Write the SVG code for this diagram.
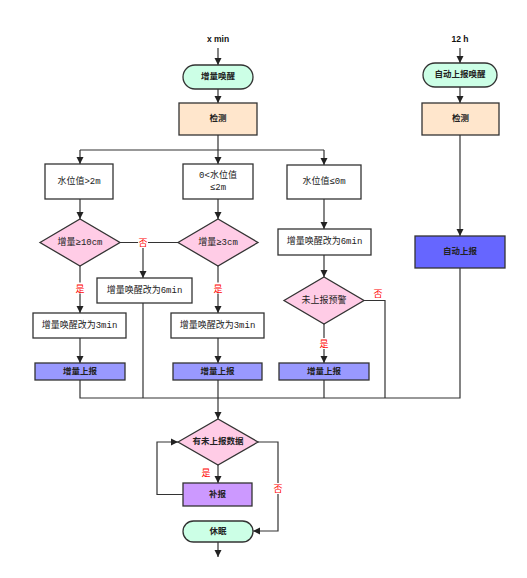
<svg xmlns="http://www.w3.org/2000/svg" width="527" height="578" viewBox="0 0 527 578">
<style>
.t{font-family:"Liberation Mono","Noto Sans CJK SC",monospace;font-size:9px;fill:#222;text-anchor:middle;dominant-baseline:central}
.b{font-weight:bold;font-size:8.5px}
.h{font-family:"Liberation Sans",Arial,sans-serif;font-size:8.5px;font-weight:bold;fill:#111;text-anchor:middle}
.lab{font-family:"Noto Sans CJK SC",sans-serif;font-size:9px;fill:#ff0000;text-anchor:middle;dominant-baseline:central}
.s{stroke:#333;stroke-width:1.3}
.term{fill:#ccffe6}
.chk{fill:#ffe6cc}
.wht{fill:#ffffff}
.dia{fill:#ffcce6}
.inc{fill:#9999ff}
.aut{fill:#6666ff}
.sup{fill:#cc99ff}
.ln{fill:none;stroke:#333;stroke-width:1.2}
</style>
<defs>
<marker id="ar" viewBox="0 0 10 10" refX="10" refY="5" markerWidth="7" markerHeight="8" markerUnits="userSpaceOnUse" orient="auto">
<path d="M0,0 L10,5 L0,10 z" fill="#222"/>
</marker>
</defs>
<rect width="527" height="578" fill="#ffffff"/>
<text class="h" x="218" y="42">x min</text>
<text class="h" x="460" y="42">12 h</text>
<g id="connectors">
<path class="ln" marker-end="url(#ar)" d="M218,48 V65"/>
<path class="ln" marker-end="url(#ar)" d="M218,89 V103"/>
<path class="ln" d="M218,135 V150 M80,150 H324"/>
<path class="ln" marker-end="url(#ar)" d="M80,150 V164"/>
<path class="ln" marker-end="url(#ar)" d="M218,150 V164"/>
<path class="ln" marker-end="url(#ar)" d="M324,150 V165"/>
<path class="ln" marker-end="url(#ar)" d="M80,199 V219"/>
<path class="ln" marker-end="url(#ar)" d="M218,199 V219"/>
<path class="ln" marker-end="url(#ar)" d="M324,199 V229"/>
<path class="ln" marker-end="url(#ar)" d="M324,255 V277"/>
<path class="ln" d="M120,242.5 H178"/>
<path class="ln" marker-end="url(#ar)" d="M143,242.5 V278"/>
<path class="ln" marker-end="url(#ar)" d="M80,266 V313"/>
<path class="ln" marker-end="url(#ar)" d="M218,266 V313"/>
<path class="ln" marker-end="url(#ar)" d="M80,338 V363"/>
<path class="ln" marker-end="url(#ar)" d="M218,338 V363"/>
<path class="ln" marker-end="url(#ar)" d="M324,323.5 V363"/>
<path class="ln" d="M364,300.5 H385 V398"/>
<path class="ln" marker-end="url(#ar)" d="M460,48 V63"/>
<path class="ln" marker-end="url(#ar)" d="M460,87 V103"/>
<path class="ln" marker-end="url(#ar)" d="M460,135 V236"/>
<path class="ln" d="M460,268 V398 H80 V380 M143,303 V398 M218,380 V398 M324,380 V398"/>
<path class="ln" marker-end="url(#ar)" d="M218,398 V419"/>
<path class="ln" marker-end="url(#ar)" d="M218,465 V483"/>
<path class="ln" marker-end="url(#ar)" d="M183,494.5 H157 V442 H178"/>
<path class="ln" marker-end="url(#ar)" d="M258,442 H278 V531 H253"/>
<path class="ln" marker-end="url(#ar)" d="M218,542 V557"/>
<rect x="138" y="237" width="10" height="11" fill="#fff"/>
<text class="lab" x="143" y="242.5">否</text>
<rect x="75" y="282.5" width="10" height="11" fill="#fff"/>
<text class="lab" x="80" y="288">是</text>
<rect x="213" y="282.5" width="10" height="11" fill="#fff"/>
<text class="lab" x="218" y="288">是</text>
<rect x="319" y="338" width="10" height="11" fill="#fff"/>
<text class="lab" x="324" y="343.5">是</text>
<text class="lab" x="378" y="293">否</text>
<text class="lab" x="206" y="472">是</text>
<rect x="273" y="483" width="10" height="11" fill="#fff"/>
<text class="lab" x="278" y="488.5">否</text>
</g>
<g id="n_wake"><rect class="s term" x="183" y="65" width="70" height="24" rx="12"/><text class="t b" x="218" y="77">增量唤醒</text></g>
<g id="n_check1"><rect class="s chk" x="179" y="103" width="78" height="32"/><text class="t b" x="218" y="119">检测</text></g>
<g id="n_gt2"><rect class="s wht" x="45" y="164" width="68" height="35"/><text class="t" x="79" y="181.5">水位值&gt;2m</text></g>
<g id="n_mid"><rect class="s wht" x="183" y="164" width="70" height="35"/><text class="t" x="218" y="175.5">0&lt;水位值</text><text class="t" x="218" y="187.5">≤2m</text></g>
<g id="n_le0"><rect class="s wht" x="287" y="165" width="74" height="34"/><text class="t" x="324" y="182">水位值≤0m</text></g>
<g id="n_6min_r"><rect class="s wht" x="278" y="229" width="93" height="26"/><text class="t" x="324.5" y="242">增量唤醒改为6min</text></g>
<g id="n_d10"><path class="s dia" d="M40,242.5 L80,219 L120,242.5 L80,266 Z"/><text class="t" x="80" y="242.5">增量≥10cm</text></g>
<g id="n_d3"><path class="s dia" d="M178,242.5 L218,219 L258,242.5 L218,266 Z"/><text class="t" x="218" y="242.5">增量≥3cm</text></g>
<g id="n_6min_m"><rect class="s wht" x="97" y="278" width="95" height="25"/><text class="t" x="144.5" y="290.5">增量唤醒改为6min</text></g>
<g id="n_dwarn"><path class="s dia" d="M284,300.5 L324,277 L364,300.5 L324,324 Z"/><text class="t" x="324" y="300.5">未上报预警</text></g>
<g id="n_3min_l"><rect class="s wht" x="33" y="313" width="93" height="25"/><text class="t" x="79.5" y="325.5">增量唤醒改为3min</text></g>
<g id="n_3min_m"><rect class="s wht" x="171" y="313" width="93" height="25"/><text class="t" x="217.5" y="325.5">增量唤醒改为3min</text></g>
<g id="n_inc1"><rect class="s inc" x="35" y="363" width="90" height="17"/><text class="t b" x="80" y="371.5">增量上报</text></g>
<g id="n_inc2"><rect class="s inc" x="173" y="363" width="89" height="17"/><text class="t b" x="217.5" y="371.5">增量上报</text></g>
<g id="n_inc3"><rect class="s inc" x="279" y="363" width="90" height="17"/><text class="t b" x="324" y="371.5">增量上报</text></g>
<g id="n_autowake"><rect class="s term" x="423" y="63" width="74" height="24" rx="12"/><text class="t b" x="460" y="75">自动上报唤醒</text></g>
<g id="n_check2"><rect class="s chk" x="422" y="103" width="77" height="32"/><text class="t b" x="460.5" y="119">检测</text></g>
<g id="n_auto"><rect class="s aut" x="415" y="236" width="90" height="32"/><text class="t b" x="460" y="252">自动上报</text></g>
<g id="n_dpend"><path class="s dia" d="M178,442 L218,419 L258,442 L218,465 Z"/><text class="t b" x="218" y="442">有未上报数据</text></g>
<g id="n_sup"><rect class="s sup" x="183" y="483" width="69" height="23"/><text class="t b" x="217.5" y="494.5">补报</text></g>
<g id="n_sleep"><rect class="s term" x="183" y="521" width="70" height="21" rx="10.5"/><text class="t b" x="218" y="531.5">休眠</text></g>
</svg>
